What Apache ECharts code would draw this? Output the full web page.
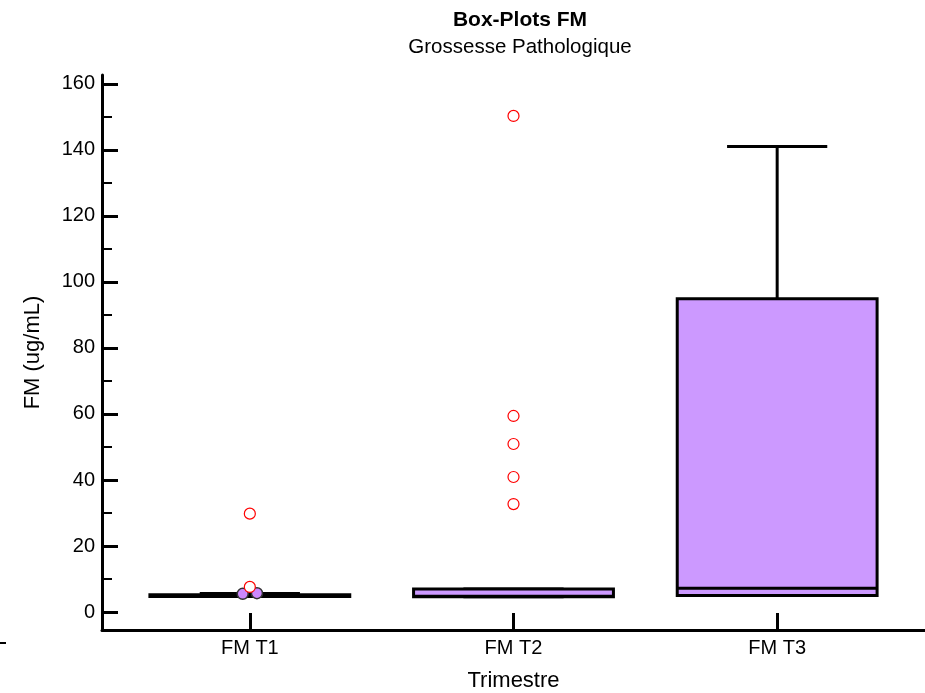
<!DOCTYPE html>
<html>
<head>
<meta charset="utf-8">
<script src="https://cdn.jsdelivr.net/npm/echarts@6/dist/echarts.min.js"></script>
<style>html,body{margin:0;padding:0;background:#fff;}#c{width:925px;height:693px;}</style>
</head>
<body>
<div id="c"></div>
<script>
// ---- data ----
var categories = ['FM T1', 'FM T2', 'FM T3'];
var lowWhisker = [4.8, 4.6, 5.0];
var q1 = [4.7, 4.6, 5.0];
var median = [5.0, 4.8, 7.2];
var q3 = [5.2, 7.0, 94.9];
var highWhisker = [5.6, 7.0, 141.0];
// outside values (red open circles): [categoryIndex, value]
var outsideIdx = [0, 0, 1, 1, 1, 1, 1];
var outsideVal = [29.8, 7.6, 150.3, 59.4, 50.9, 40.9, 32.7];
// filled points near T1 box: [position offset, value]
var nearPos = [-0.027, 0.027];
var nearVal = [5.5, 5.7];
var yTicks = [0, 20, 40, 60, 80, 100, 120, 140, 160];
var yMinorTicks = [10, 30, 50, 70, 90, 110, 130, 150];

var FONT = 'Liberation Sans, Arial, sans-serif';
var yMin = -5.45, yMax = 162.7;

var boxData = categories.map(function (c, i) {
  return [i, lowWhisker[i], q1[i], median[i], q3[i], highWhisker[i]];
});
var outsideData = outsideIdx.map(function (ix, k) { return [ix, outsideVal[k]]; });
var nearData = nearPos.map(function (p, k) { return [p, nearVal[k]]; });

function renderBox(params, api) {
  var i = api.value(0);
  var band = api.size([1, 0])[0];
  var half = band * 0.379;
  var capHalf = band * 0.19;
  var pLow = api.coord([i, api.value(1)]);
  var pQ1 = api.coord([i, api.value(2)]);
  var pMed = api.coord([i, api.value(3)]);
  var pQ3 = api.coord([i, api.value(4)]);
  var pHigh = api.coord([i, api.value(5)]);
  var x = pQ1[0];
  var st = { stroke: '#000', lineWidth: 3 };
  return {
    type: 'group',
    children: [
      { type: 'line', shape: { x1: x, y1: pQ3[1], x2: x, y2: pHigh[1] }, style: st },
      { type: 'line', shape: { x1: x, y1: pQ1[1], x2: x, y2: pLow[1] }, style: st },
      { type: 'line', shape: { x1: x - capHalf, y1: pHigh[1], x2: x + capHalf, y2: pHigh[1] }, style: st },
      { type: 'line', shape: { x1: x - capHalf, y1: pLow[1], x2: x + capHalf, y2: pLow[1] }, style: st },
      { type: 'rect', shape: { x: x - half, y: pQ3[1], width: half * 2, height: pQ1[1] - pQ3[1] },
        style: { fill: '#cc99ff', stroke: '#000', lineWidth: 3 } },
      { type: 'line', shape: { x1: x - half, y1: pMed[1], x2: x + half, y2: pMed[1] }, style: st }
    ]
  };
}

var chart = echarts.init(document.getElementById('c'), null, { renderer: 'canvas' });
chart.setOption({
  animation: false,
  backgroundColor: '#fff',
  title: {
    text: 'Box-Plots FM',
    subtext: 'Grossesse Pathologique',
    left: 515, top: 3, textAlign: 'center', itemGap: 3,
    textStyle: { fontFamily: FONT, fontSize: 21, fontWeight: 'bold', color: '#000', lineHeight: 24 },
    subtextStyle: { fontFamily: FONT, fontSize: 20.5, color: '#000', lineHeight: 24 }
  },
  grid: [
    { left: 102, right: 0, top: 75, bottom: 63, outerBoundsMode: 'none', containLabel: false },
    { left: 118, right: 16, top: 75, bottom: 63, outerBoundsMode: 'none', containLabel: false }
  ],
  xAxis: [
    { gridIndex: 0, type: 'value', min: 0, max: 1, position: 'bottom',
      axisLine: { show: true, onZero: false, lineStyle: { color: '#000', width: 3 } },
      axisTick: { show: false }, axisLabel: { show: false }, splitLine: { show: false } },
    { gridIndex: 1, type: 'category', data: categories, position: 'bottom',
      name: 'Trimestre', nameLocation: 'middle', nameGap: 40,
      nameTextStyle: { fontFamily: FONT, fontSize: 22, color: '#000' },
      axisLine: { show: false, onZero: false },
      axisTick: { show: true, inside: true, length: 17, alignWithLabel: true, lineStyle: { color: '#000', width: 3 } },
      axisLabel: { fontFamily: FONT, fontSize: 20, color: '#000', margin: 8 },
      splitLine: { show: false } },
    { gridIndex: 1, type: 'value', min: -0.5, max: 2.5, show: false }
  ],
  yAxis: [
    { gridIndex: 0, type: 'value', min: yMin, max: yMax, position: 'left',
      name: 'FM (ug/mL)', nameLocation: 'middle', nameGap: 58,
      nameTextStyle: { fontFamily: FONT, fontSize: 22, color: '#000' },
      axisLine: { show: true, onZero: false, lineStyle: { color: '#000', width: 3 } },
      axisTick: { show: true, inside: true, length: 16, customValues: yTicks, lineStyle: { color: '#000', width: 3 } },
      axisLabel: { fontFamily: FONT, fontSize: 20, color: '#000', margin: 7, customValues: yTicks },
      splitLine: { show: false } },
    { gridIndex: 0, type: 'value', min: yMin, max: yMax, position: 'left', offset: 0,
      axisLine: { show: false, onZero: false },
      axisTick: { show: true, inside: true, length: 10, customValues: yMinorTicks, lineStyle: { color: '#000', width: 2 } },
      axisLabel: { show: false }, splitLine: { show: false } },
    { gridIndex: 1, type: 'value', min: yMin, max: yMax, show: false }
  ],
  series: [
    { type: 'custom', xAxisIndex: 1, yAxisIndex: 2, data: boxData, renderItem: renderBox, z: 2 },
    { type: 'scatter', xAxisIndex: 2, yAxisIndex: 2, data: nearData, symbol: 'circle', symbolSize: 11,
      itemStyle: { color: '#cc88ff', borderColor: '#333', borderWidth: 1.5, opacity: 1 }, z: 3 },
    { type: 'scatter', xAxisIndex: 2, yAxisIndex: 2, data: outsideData,
      symbol: 'circle', symbolSize: 11,
      itemStyle: { color: '#fff', borderColor: '#ff0000', borderWidth: 1.2, opacity: 1 }, z: 4 }
  ],
  graphic: [
    { type: 'rect', shape: { x: 0, y: 642, width: 6, height: 2 }, style: { fill: '#000' } }
  ]
});
</script>
</body>
</html>
